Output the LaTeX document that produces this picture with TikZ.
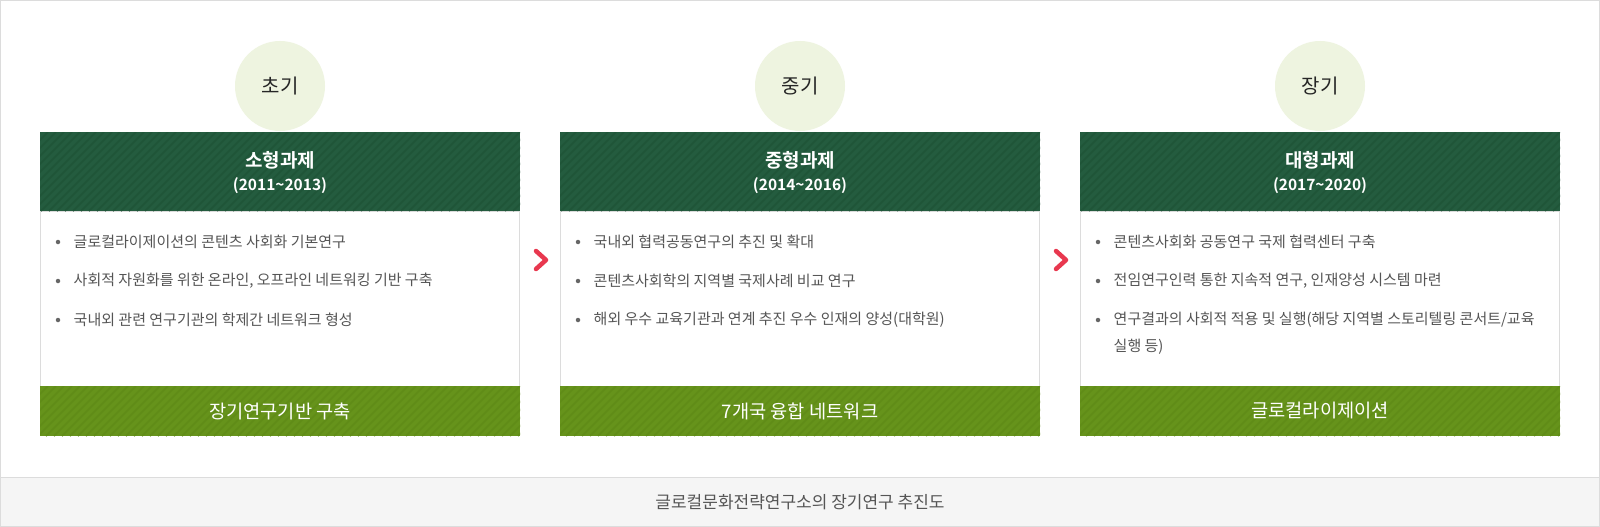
\documentclass[tikz,border=0pt]{standalone}
\usepackage{fontspec}
\setmainfont{Noto Sans CJK KR}
\newfontfamily\krb{Noto Sans CJK KR Bold}
\definecolor{hdr}{HTML}{245C3F}
\definecolor{hdrs}{HTML}{1F5538}
\definecolor{bar}{HTML}{66931B}
\definecolor{bars}{HTML}{608C17}
\definecolor{circ}{HTML}{EEF4E0}
\definecolor{bord}{HTML}{DCDCDC}
\definecolor{txt}{HTML}{555555}
\definecolor{chev}{HTML}{E8384F}
\definecolor{capbg}{HTML}{F5F5F5}
\tikzset{
  phase/.style={circle,fill=circ,minimum size=90pt,inner sep=0pt,font=\fontsize{20}{24}\selectfont,text=black!85},
  ttl/.style={text=white,font=\krb\fontsize{19}{22}\selectfont},
  yrs/.style={text=white,font=\krb\fontsize{15.5}{18}\selectfont},
  btxt/.style={anchor=west,text=txt,font=\fontsize{15}{18}\selectfont,inner sep=0pt},
  bdot/.style={circle,fill=txt!90,minimum size=4.5pt,inner sep=0pt},
  goal/.style={text=white,font=\fontsize{18.7}{22}\selectfont},
  chevr/.style={draw=chev,line width=4.5pt,line cap=round,line join=round},
  captxt/.style={text=txt,font=\fontsize{17}{20}\selectfont}
}
\newcommand\stripebox[6]{%
  \begin{scope}
    \clip (#1,#2) rectangle (#3,#4);
    \fill[#5] (#1,#2) rectangle (#3,#4);
    \pgfmathsetmacro\hh{#4-#2}
    \pgfmathsetmacro\ww{#3-#1+#4-#2}
    \foreach \k in {0,8,...,\ww} \draw[#6,line width=1.6pt] ({#1+\k-\hh},#4) -- ({#1+\k},#2);
  \end{scope}}
\begin{document}
\begin{tikzpicture}[x=1pt,y=-1pt]
\useasboundingbox (0,0) rectangle (1600,527);
\fill[white] (0,0) rectangle (1600,527);
% caption bar
\fill[capbg] (0,477) rectangle (1600,527);
\draw[bord,line width=1pt] (0,477) -- (1600,477);
\draw[bord,line width=1pt] (0.5,0.5) rectangle (1599.5,526.5);
\node[captxt] (caption) at (800,502) {글로컬문화전략연구소의 장기연구 추진도};

% panels
\foreach \i/\x/\ph/\tt/\yr/\gl in {
  1/40/초기/소형과제/(2011\textasciitilde2013)/장기연구기반 구축,
  2/560/중기/중형과제/(2014\textasciitilde2016)/7개국 융합 네트워크,
  3/1080/장기/대형과제/(2017\textasciitilde2020)/글로컬라이제이션}{
  \draw[bord,line width=1pt] (\x+0.5,211) rectangle (\x+479.5,386);
  \stripebox{\x}{132}{\x+480}{211}{hdr}{hdrs}
  \stripebox{\x}{386}{\x+480}{436}{bar}{bars}
  \node[phase] (ph\i) at (\x+240,86) {\ph};
  \node[ttl] (t\i) at (\x+240,160) {\tt};
  \node[yrs] (y\i) at (\x+240,186) {\yr};
  \node[goal] (g\i) at (\x+240,411) {\gl};
  \foreach \yy in {242,281,320} \node[bdot] at (\x+18,\yy) {};
}

% bullets
\node[btxt] (a1) at (73.5,242) {글로컬라이제이션의 콘텐츠 사회화 기본연구};
\node[btxt] (a2) at (73.5,281) {사회적 자원화를 위한 온라인, 오프라인 네트워킹 기반 구축};
\node[btxt] (a3) at (73.5,320) {국내외 관련 연구기관의 학제간 네트워크 형성};
\node[btxt] (b1) at (593.5,242) {국내외 협력공동연구의 추진 및 확대};
\node[btxt] (b2) at (593.5,281) {콘텐츠사회학의 지역별 국제사례 비교 연구};
\node[btxt] (b3) at (593.5,320) {해외 우수 교육기관과 연계 추진 우수 인재의 양성(대학원)};
\node[btxt] (c1) at (1113.5,242) {콘텐츠사회화 공동연구 국제 협력센터 구축};
\node[btxt] (c2) at (1113.5,281) {전임연구인력 통한 지속적 연구, 인재양성 시스템 마련};
\node[btxt] (c3) at (1113.5,320) {연구결과의 사회적 적용 및 실행(해당 지역별 스토리텔링 콘서트/교육};
\node[btxt] (c4) at (1113.5,347) {실행 등)};

% chevrons
\draw[chevr] (536,251) -- (546,260) -- (536,269);
\draw[chevr] (1056,251) -- (1066,260) -- (1056,269);
\end{tikzpicture}
\end{document}
